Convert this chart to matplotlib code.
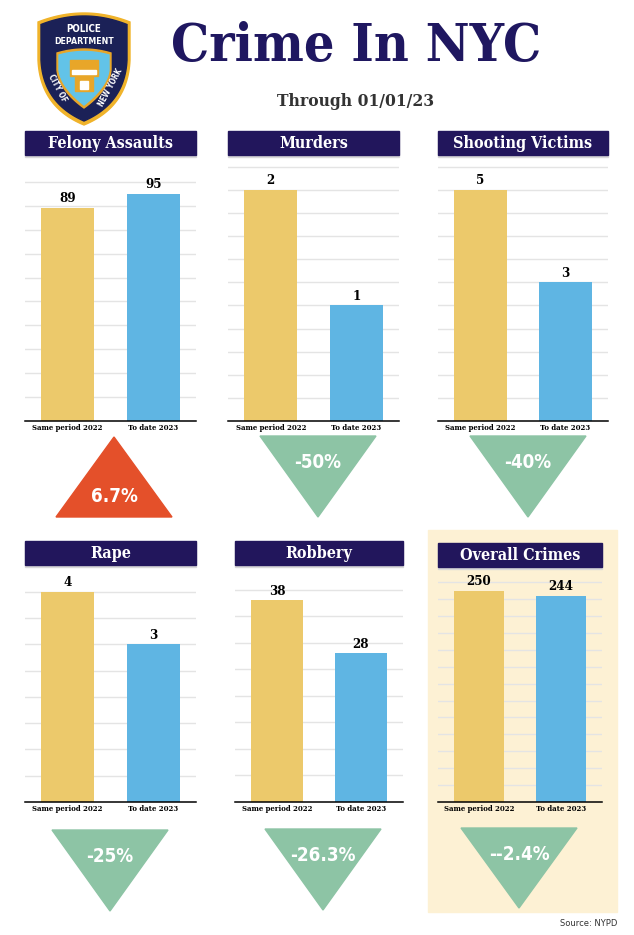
import numpy as np
import matplotlib.pyplot as plt
from matplotlib.patches import Rectangle, Polygon

# ------------------------------------------------------------
# Data (read off the NYPD graphic)
# ------------------------------------------------------------
categories = ['Felony Assaults', 'Murders', 'Shooting Victims',
              'Rape', 'Robbery', 'Overall Crimes']
same_period_2022 = [89, 2, 5, 4, 38, 250]
to_date_2023 = [95, 1, 3, 3, 28, 244]
pct_change = ['6.7%', '-50%', '-40%', '-25%', '-26.3%', '--2.4%']
trend = ['up', 'down', 'down', 'down', 'down', 'down']
bar_labels = ['Same period 2022', 'To date 2023']

# ------------------------------------------------------------
# Layout (pixels, y measured from the top)
# ------------------------------------------------------------
W, H = 634, 935
panel_left = [25, 228, 438, 25, 235, 438]
panel_width = [171, 171, 170, 171, 168, 164]
title_top = [131, 131, 131, 541, 541, 543]
title_h = 24
axes_top = [165, 165, 165, 575, 575, 575]
axes_base = [421, 421, 421, 802, 802, 802]
ymax = [107.1, 2.216, 5.54, 4.32, 42.8, 268.6]
grid_step = [10, 0.2, 0.5, 0.5, 5, 20]
tri_cx = [114, 318, 528, 110, 323, 519]
tri_top = [437, 436, 436, 830, 829, 828]
tri_bottom = [517, 517, 517, 911, 910, 908]

NAVY = '#22165c'
YELLOW = '#ecc96b'
BLUE = '#5fb5e3'
RED = '#e4502a'
GREEN = '#8dc4a5'
BEIGE = '#fdf1d4'

SLAB = dict(family='DejaVu Serif', fontweight='bold', fontstretch='condensed')
COND = dict(family='DejaVu Sans', fontweight='bold', fontstretch='condensed')

fig = plt.figure(figsize=(W / 100, H / 100), dpi=100)
fig.patch.set_facecolor('white')

# background axes in pixel coordinates
bg = fig.add_axes([0, 0, 1, 1])
bg.set_xlim(0, W)
bg.set_ylim(H, 0)
bg.axis('off')
bg.set_zorder(0)

# beige box behind "Overall Crimes"
bg.add_patch(Rectangle((428, 530), 189, 382, color=BEIGE, zorder=0))

# ---------------- header ----------------
bg.text(356, 47, 'Crime In NYC', ha='center', va='center', fontsize=38.5,
        color='#1f1760', **SLAB)
bg.text(356, 101, 'Through 01/01/23', ha='center', va='center', fontsize=12.5,
        color='#333333', **SLAB)


def shield(cx, top, half, side, tip, arch, n=30):
    xs = np.linspace(cx - half, cx + half, n)
    ys = top - arch * (1 - ((xs - cx) / half) ** 2)
    t = np.linspace(0, 1, n)
    # right side: bezier from shoulder down to the tip
    p0 = np.array([cx + half, side])
    p1 = np.array([cx + half - 2, tip - 18])
    p2 = np.array([cx, tip])
    right = ((1 - t) ** 2)[:, None] * p0 + (2 * (1 - t) * t)[:, None] * p1 + (t ** 2)[:, None] * p2
    left = right[::-1].copy()
    left[:, 0] = 2 * cx - left[:, 0]
    pts = [(x, y) for x, y in zip(xs, ys)]
    pts += [(cx + half, top)] + [tuple(p) for p in right] + [tuple(p) for p in left]
    return pts


# NYPD shield (simplified)
bg.add_patch(Polygon(shield(84, 22, 46, 60, 125, 9), closed=True, color='#f0b32a', zorder=2))
bg.add_patch(Polygon(shield(84, 24.5, 43, 60, 121, 8.5), closed=True, color='#1b2157', zorder=3))
bg.add_patch(Polygon(shield(84, 53, 27, 70, 108, 4), closed=True, color='#e8a629', zorder=4))
bg.add_patch(Polygon(shield(84, 55, 25, 70, 105, 3.5), closed=True, color='#62c3e8', zorder=5))
bg.add_patch(Rectangle((70, 60), 28, 16, color='#e8a629', zorder=6))
bg.add_patch(Rectangle((72, 70), 24, 4, color='white', zorder=7))
bg.add_patch(Rectangle((75, 77), 18, 14, color='#e8a629', zorder=6))
bg.add_patch(Rectangle((80, 81), 8, 8, color='white', zorder=7))
bg.text(84, 29, 'POLICE', ha='center', va='center', fontsize=7, color='white',
        zorder=8, **COND)
bg.text(84, 41, 'DEPARTMENT', ha='center', va='center', fontsize=6.3, color='white',
        zorder=8, **COND)
bg.text(57, 88, 'CITY OF', ha='center', va='center', fontsize=5.5, color='white',
        rotation=-62, zorder=8, **COND)
bg.text(111, 88, 'NEW YORK', ha='center', va='center', fontsize=5.5, color='white',
        rotation=62, zorder=8, **COND)

# ---------------- panels ----------------
for i, name in enumerate(categories):
    left = panel_left[i]
    w = panel_width[i]

    # title bar with light shadow
    bg.add_patch(Rectangle((left, title_top[i] + 2), w, title_h, color='#d9d9d9', zorder=1))
    bg.add_patch(Rectangle((left, title_top[i]), w, title_h, color=NAVY, zorder=2))
    bg.text(left + w / 2, title_top[i] + title_h / 2 + 0.5, name, ha='center', va='center',
            fontsize=11.5, color='white', zorder=3, **SLAB)

    # bar chart
    ax = fig.add_axes([left / W, 1 - axes_base[i] / H, w / W,
                       (axes_base[i] - axes_top[i]) / H])
    ax.set_zorder(1)
    ax.patch.set_alpha(0)
    bars = ax.bar([0, 1], [same_period_2022[i], to_date_2023[i]], width=0.62,
                  color=[YELLOW, BLUE], zorder=2)
    ax.bar_label(bars, padding=2, fontsize=9.5, **SLAB)
    ax.set_xlim(-0.5, 1.5)
    ax.set_ylim(0, ymax[i])
    ax.set_yticks(np.arange(grid_step[i], ymax[i], grid_step[i]))
    ax.yaxis.grid(True, color='#e4e4e4', linewidth=1, zorder=0)
    ax.tick_params(axis='y', length=0, labelleft=False)
    ax.set_xticks([0, 1], bar_labels)
    ax.tick_params(axis='x', length=0, pad=2)
    for lab in ax.get_xticklabels():
        lab.set_fontsize(5.6)
        lab.set_fontweight('bold')
        lab.set_family('DejaVu Serif')
        lab.set_fontstretch('condensed')
    for s in ['top', 'left', 'right']:
        ax.spines[s].set_visible(False)
    ax.spines['bottom'].set_color('black')
    ax.spines['bottom'].set_linewidth(1.1)
    ax.set_axisbelow(True)

    # change triangle
    cx, t, b = tri_cx[i], tri_top[i], tri_bottom[i]
    if trend[i] == 'up':
        pts = [(cx - 58, b), (cx + 58, b), (cx, t)]
        ty = t + 0.74 * (b - t)
        col = RED
    else:
        pts = [(cx - 58, t), (cx + 58, t), (cx, b)]
        ty = t + 0.33 * (b - t)
        col = GREEN
    bg.add_patch(Polygon(pts, closed=True, color=col, zorder=2))
    bg.text(cx, ty, pct_change[i], ha='center', va='center', fontsize=13.5,
            color='white', zorder=3, **COND)

bg.text(617, 923, 'Source: NYPD', ha='right', va='center', fontsize=6,
        color='#333333', family='DejaVu Sans')

fig.savefig('out.png', dpi=100, facecolor='white')
